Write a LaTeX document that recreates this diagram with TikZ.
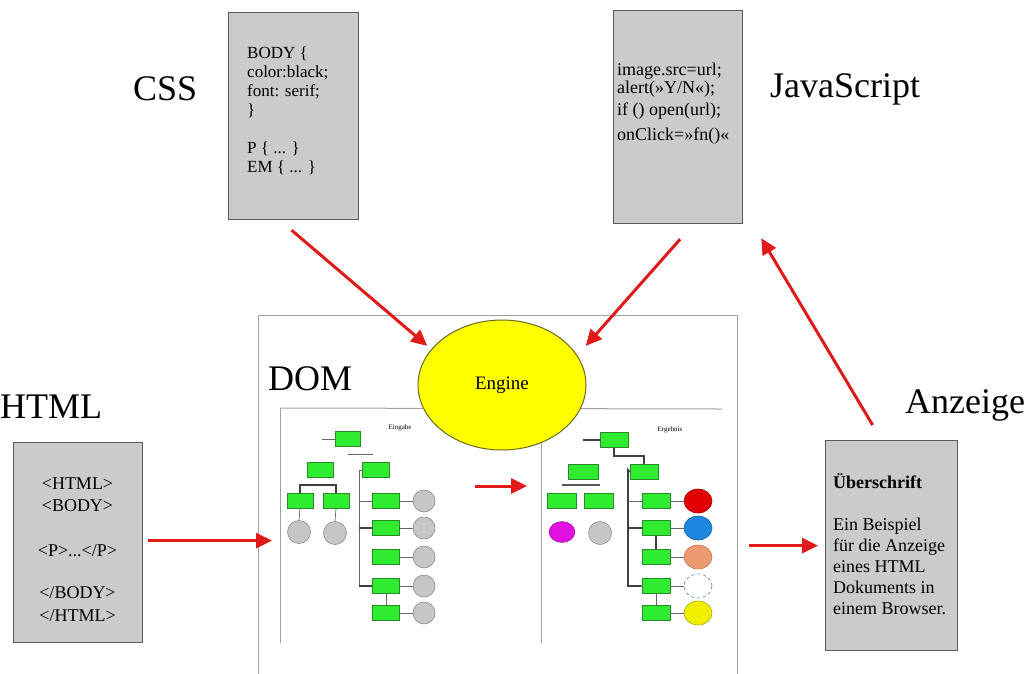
\documentclass[tikz,border=0pt]{standalone}
\usepackage{fontspec}
\setmainfont{Liberation Serif}
\usetikzlibrary{arrows.meta,shapes.geometric}
\definecolor{boxgray}{HTML}{CBCBCB}
\definecolor{boxedge}{HTML}{5A5A5A}
\definecolor{arrred}{HTML}{E01A18}
\definecolor{tgreen}{HTML}{30EC30}
\definecolor{tgreenedge}{HTML}{2A8A2A}
\definecolor{nodegray}{HTML}{C6C6C6}
\definecolor{panelgray}{HTML}{A0A0A0}
\definecolor{engineyellow}{HTML}{FFFF00}
\definecolor{engineedge}{HTML}{6A6A20}
\definecolor{cred}{HTML}{E00000}
\definecolor{cblue}{HTML}{1C86E0}
\definecolor{csalmon}{HTML}{EE9A70}
\definecolor{cyellow}{HTML}{F2F000}
\definecolor{cmagenta}{HTML}{E010E0}
\begin{document}
\begin{tikzpicture}[x=1pt,y=-1pt,
  codebox/.style={draw=boxedge,fill=boxgray,line width=1.2pt,anchor=north west,inner sep=0pt},
  codetext/.style={anchor=north west,inner sep=0pt,align=left},
  bigtitle/.style={font=\fontsize{36}{40}\selectfont,inner sep=0pt,anchor=base west},
  redarrow/.style={draw=arrred,line width=3pt,-{Triangle[length=16pt,width=15pt]}},
  gbox/.style={draw=tgreenedge,fill=tgreen,line width=0.8pt,minimum width=26pt,minimum height=15pt,inner sep=0pt},
  gcirc/.style={circle,draw=gray,fill=nodegray,line width=0.5pt,minimum size=23pt,inner sep=0pt},
  ccirc/.style={ellipse,line width=0.6pt,minimum width=28pt,minimum height=24pt,inner sep=0pt},
  treeline/.style={draw=gray!80!black,line width=0.7pt},
  thickline/.style={draw=gray!50!black,line width=1.8pt},
  panelline/.style={draw=panelgray,line width=1pt},
  smalllabel/.style={font=\fontsize{7}{8}\selectfont,inner sep=0pt}
]
\useasboundingbox (0,0) rectangle (1032,673);
\fill[white] (0,0) rectangle (1032,673);

% ---------- titles
\node[bigtitle] (csslabel) at (133,100) {CSS};
\node[bigtitle] (jslabel) at (770,97) {JavaScript};
\node[bigtitle] (htmllabel) at (0,418) {HTML};
\node[bigtitle] (anzlabel) at (905,413) {Anzeige};

% ---------- CSS box
\node[codebox,minimum width=130pt,minimum height=207pt] (css) at (228,12) {};
\node[codetext,font=\fontsize{17}{19}\selectfont] (csstext) at (247,46)
  {BODY \{\\color:black;\\font: serif;\\\}\\[19pt]P \{ ... \}\\EM \{ ... \}};

% ---------- JavaScript box
\node[codebox,minimum width=129pt,minimum height=213pt] (js) at (613,10) {};
\node[codetext,font=\fontsize{18}{15}\selectfont] (jstext) at (617,63)
  {image.src=url;\\alert(»Y/N«);\\[5pt]if () open(url);\\[7pt]onClick=»fn()«};

% ---------- HTML box
\node[codebox,minimum width=129pt,minimum height=200pt] (html) at (13,442) {};
\node[codetext,anchor=north,align=center,font=\fontsize{18}{22.5}\selectfont] (htmltext) at (77.5,477)
  {<HTML>\\<BODY>\\[22pt]<P>...</P>\\[20pt]</BODY>\\</HTML>};

% ---------- Anzeige box
\node[codebox,minimum width=132pt,minimum height=210pt] (anz) at (825,440) {};
\node[codetext,font=\fontsize{18}{21}\selectfont] (anztext) at (833,473)
  {\textbf{Überschrift}\\[21pt]Ein Beispiel\\für die Anzeige\\eines HTML\\Dokuments in\\einem Browser.};

% ---------- DOM box
\node[draw=panelgray,fill=white,line width=1.2pt,anchor=north west,inner sep=0pt,
      minimum width=479pt,minimum height=365pt] (dom) at (258,315) {};
\node[bigtitle] (domlabel) at (268,390) {DOM};

% panels
\coordinate (pl) at (280,408);
\coordinate (pr) at (722,409);
\coordinate (pm) at (541,409);
\coordinate (plb) at (280,643);
\coordinate (pmb) at (541,643);
\draw[panelline] (pl) -- (pr);
\draw[panelline] (pl) -- (plb);
\draw[panelline] (pm) -- (pmb);

\node[smalllabel] (lefttitle) at (400,428) {Eingabe};
\node[smalllabel] (righttitle) at (670,430) {Ergebnis};

% ---------- left tree
\node[gbox,minimum width=25pt] (lroot) at (348,439) {};
\coordinate (lrootin) at (322,439);
\draw[treeline] (lrootin) -- (lroot.west);
\coordinate (lbarA) at (348,454);
\coordinate (lbarB) at (373,454);
\draw[treeline] (lbarA) -- (lbarB);
\node[gbox] (l1a) at (320,470) {};
\node[gbox,minimum width=27pt] (l1b) at (376,470) {};
\node[gbox] (l2a) at (300,501) {};
\node[gbox] (l2b) at (336,501) {};
\draw[thickline,line width=1.3pt] (l2a.north) -- ++(0,-8) -| (l2b.north);
\node[gcirc] (lc1) at (299,532) {};
\node[gcirc] (lc2) at (335,533) {};
\draw[treeline] (l2a.south) -- (lc1.north);
\draw[treeline] (l2b.south) -- (lc2.north);
\coordinate (lv) at (359,470);
\foreach \i/\y in {1/501,2/528,3/557,4/586,5/613}{
  \node[gbox,minimum width=27pt] (lr\i) at (386,\y) {};
  \node[gcirc,minimum size=22pt] (lk\i) at (424,\y) {};
  \draw[treeline] (lr\i.east) -- (lk\i.west);
}
\draw[treeline] (l1b.west) -- (lv) |- (lr4.west);
\draw[treeline] (lv |- lr1.west) -- (lr1.west);
\draw[thickline,line width=1.3pt] (lv |- lr2.west) -- (lr2.west);
\draw[thickline,line width=1.3pt] (lv |- lr4.west) -- (lr4.west);
\draw[treeline] (lr4.south) -- (lr5.north);

% ---------- right tree
\node[gbox,minimum width=28pt] (rroot) at (614,440) {};
\coordinate (rrootin) at (583,440);
\draw[thickline] (rrootin) -- (rroot.west);
\node[gbox,minimum width=30pt] (r1a) at (583,472) {};
\node[gbox,minimum width=28pt] (r1b) at (644,472) {};
\draw[thickline] (rroot.south) -- ++(0,8) -| (r1b.north);
\coordinate (rbarA) at (562,485);
\coordinate (rbarB) at (600,485);
\draw[thickline,draw=gray!70!black] (rbarA) -- (rbarB);
\node[gbox,minimum width=29pt] (r2a) at (562,501) {};
\node[gbox,minimum width=29pt] (r2b) at (599,501) {};
\node[ellipse,draw=cmagenta!70!black,fill=cmagenta,minimum width=26pt,minimum height=21pt,inner sep=0pt] (rm) at (562,532) {};
\node[gcirc] (rg) at (600,533) {};
\coordinate (rv) at (628,470);
\foreach \i/\y in {1/501,2/528,3/557,4/586,5/613}{
  \node[gbox,minimum width=28pt] (rr\i) at (656,\y) {};
}
\node[ccirc,draw=cred!70!black,fill=cred] (rk1) at (698,501) {};
\node[ccirc,draw=cblue!70!black,fill=cblue] (rk2) at (698,528) {};
\node[ccirc,draw=csalmon!80!black,fill=csalmon] (rk3) at (698,557) {};
\node[ccirc,draw=cblue!60!gray,dashed,fill=white] (rk4) at (698,586) {};
\node[ccirc,draw=cyellow!70!black,fill=cyellow] (rk5) at (698,613) {};
\foreach \i in {1,...,5}{
  \draw[treeline] (rr\i.east) -- (rk\i.west);
}
\draw[thickline] (r1b.west) -- (rv) |- (rr4.west);
\draw[treeline] (rv |- rr1.west) -- (rr1.west);
\draw[thickline] (rv |- rr2.west) -- (rr2.west);
\draw[thickline] (rr2.south) -- (rr3.north);
\draw[treeline] (rr4.south) -- (rr5.north);

% ---------- engine
\node[ellipse,draw=engineedge,fill=engineyellow,line width=1pt,minimum width=168pt,minimum height=130pt,
      inner sep=0pt,font=\fontsize{19}{21}\selectfont] (engine) at (502,385) {Engine};

% ---------- arrows
\draw[redarrow] ([xshift=-2pt,yshift=-10pt]css.south) -- ([xshift=-7pt]engine.150);
\draw[redarrow] ([xshift=2pt,yshift=-15pt]js.south) -- ([xshift=16pt]engine.30);
\draw[redarrow] ([xshift=-19pt,yshift=15pt]anz.north) -- ([xshift=18pt,yshift=-14pt]js.south east);
\path (html.east -| dom.west) coordinate (domin);
\draw[redarrow] ([xshift=5pt,yshift=2pt]html.east) -- ([xshift=14pt,yshift=2pt]domin);
\coordinate (midA) at (475,486);
\coordinate (midB) at (527,486);
\draw[redarrow] (midA) -- (midB);
\path (dom.east |- anz.west) coordinate (domout);
\draw[redarrow] ([xshift=11pt]domout) -- ([xshift=-7pt]anz.west);
\end{tikzpicture}
\end{document}
